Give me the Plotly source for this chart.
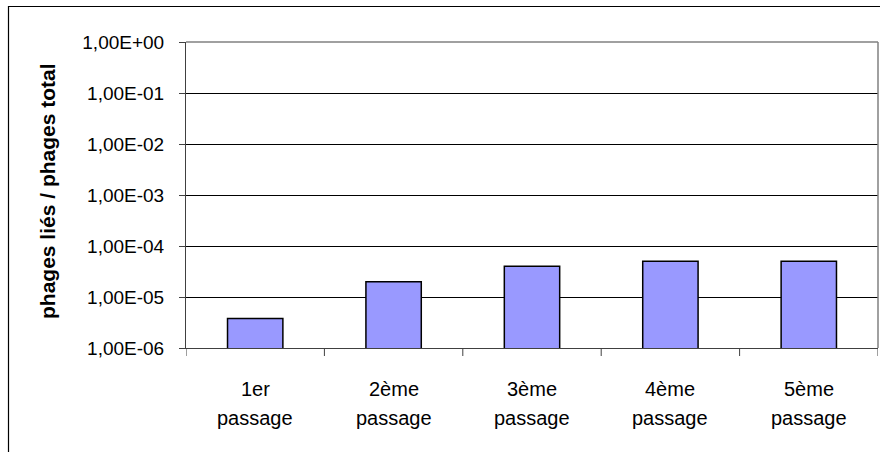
import plotly.graph_objects as go

categories = ["1er<br>passage", "2ème<br>passage", "3ème<br>passage", "4ème<br>passage", "5ème<br>passage"]
values = [3.8e-6, 2.0e-5, 4.0e-5, 5.0e-5, 5.0e-5]
tick_vals = [1e-6, 1e-5, 1e-4, 1e-3, 1e-2, 1e-1, 1e0]
tick_text = ["1,00E-06", "1,00E-05", "1,00E-04", "1,00E-03", "1,00E-02", "1,00E-01", "1,00E+00"]
y_title = "phages liés / phages total"

W, H = 880, 452
L, R, T, B = 186, 2, 42, 104
pw, ph = W - L - R, H - T - B

fig = go.Figure()
fig.add_trace(go.Bar(
    x=list(range(len(categories))), y=values,
    width=0.4,
    marker=dict(color="#9999FF", line=dict(color="#000000", width=1.5)),
))

font = "Liberation Sans, Arial, sans-serif"
fig.update_layout(
    width=W, height=H,
    margin=dict(l=L, r=R, t=T, b=B),
    paper_bgcolor="white", plot_bgcolor="white",
    showlegend=False,
    font=dict(family=font, size=19, color="black"),
    xaxis=dict(
        range=[-0.5, len(categories) - 0.5],
        showticklabels=False,
        ticks="",
        showgrid=False,
        showline=True, linecolor="#404040", linewidth=1,
        zeroline=False,
    ),
    yaxis=dict(
        type="log", range=[-6, 0],
        tickvals=tick_vals, ticktext=tick_text,
        ticks="outside", ticklen=6, tickcolor="#404040",
        ticklabelstandoff=11,
        showgrid=True, gridcolor="#000000", gridwidth=1,
        showline=True, linecolor="#404040", linewidth=1,
        tickfont=dict(size=19),
        zeroline=False,
    ),
)

# category labels (two lines each), placed on the x axis scale
for i, cat in enumerate(categories):
    lines = cat.split("<br>")
    for j, txt in enumerate(lines):
        fig.add_annotation(x=i, xref="x", yref="paper",
                           y=-(41 + 29 * j) / ph, yanchor="middle",
                           text=txt, showarrow=False,
                           font=dict(size=20, family=font, color="black"))

# y axis title
fig.add_annotation(xref="paper", yref="paper", x=(47 - L) / pw, y=(H - B - 191) / ph,
                   xanchor="center", yanchor="middle", textangle=-90,
                   text=y_title, showarrow=False,
                   font=dict(size=21, family=font, color="black", weight="bold"))

# category separator ticks on the x axis
for i in range(len(categories) + 1):
    fig.add_shape(type="line", xref="x", yref="paper",
                  x0=i - 0.5, x1=i - 0.5, y0=0, y1=-8 / ph,
                  line=dict(color="#404040", width=1))

# plot area border (top/right, gray)
fig.add_shape(type="line", xref="paper", yref="paper", x0=0, x1=1, y0=1, y1=1,
              line=dict(color="#808080", width=1.5))
fig.add_shape(type="line", xref="paper", yref="paper", x0=1, x1=1, y0=0, y1=1,
              line=dict(color="#808080", width=1.5))

# outer chart border
fig.add_shape(type="rect", xref="paper", yref="paper",
              x0=(8.5 - L) / pw, x1=(W + 10 - L) / pw,
              y0=-(B + 10) / ph, y1=1 + (T - 6.5) / ph,
              line=dict(color="#000000", width=1.2), fillcolor="rgba(0,0,0,0)", layer="below")

fig.write_html("out.html", config={"displayModeBar": False},
               post_script="document.body.style.margin='0px';document.body.style.overflow='hidden';")
